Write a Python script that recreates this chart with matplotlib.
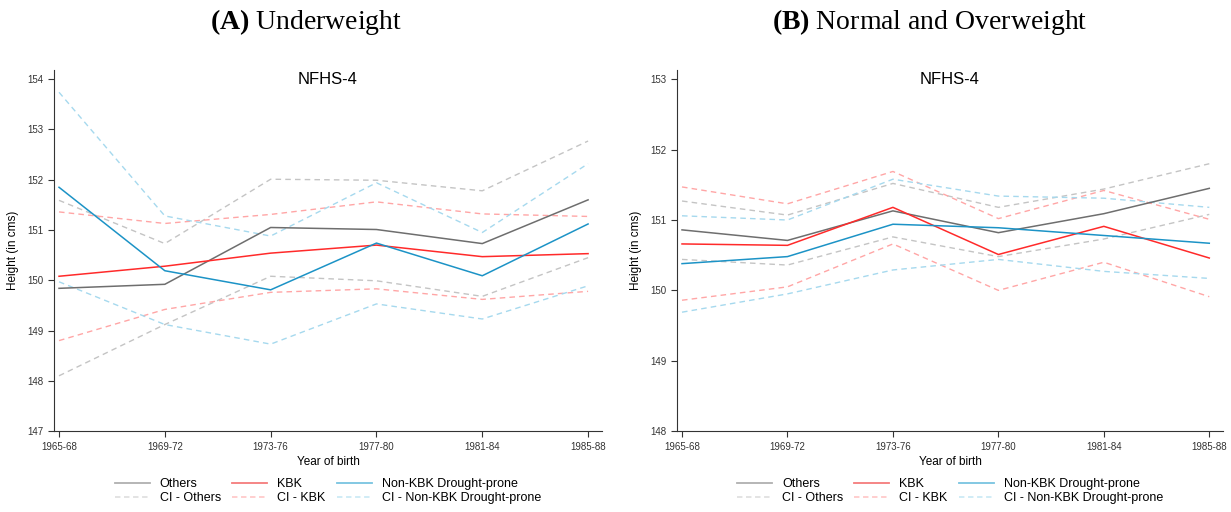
import matplotlib
matplotlib.use("Agg")
import matplotlib.pyplot as plt

plt.rcParams.update({"font.family": "Liberation Sans", "font.size": 8,
                     "mathtext.fontset": "custom",
                     "mathtext.rm": "Liberation Serif",
                     "mathtext.bf": "Liberation Serif:bold"})

cohorts = ["1965-68", "1969-72", "1973-76", "1977-80", "1981-84", "1985-88"]

# (A) Underweight
a_others = [149.84, 149.92, 151.05, 151.01, 150.73, 151.60]
a_kbk = [150.08, 150.28, 150.54, 150.70, 150.47, 150.53]
a_nonkbk = [151.85, 150.19, 149.81, 150.74, 150.09, 151.12]
a_others_hi = [151.59, 150.73, 152.01, 151.99, 151.78, 152.77]
a_others_lo = [148.10, 149.12, 150.08, 149.99, 149.68, 150.45]
a_kbk_hi = [151.36, 151.13, 151.31, 151.56, 151.32, 151.27]
a_kbk_lo = [148.80, 149.42, 149.76, 149.83, 149.62, 149.78]
a_nonkbk_hi = [153.74, 151.28, 150.88, 151.94, 150.95, 152.32]
a_nonkbk_lo = [149.97, 149.12, 148.73, 149.53, 149.23, 149.89]

# (B) Normal and Overweight
b_others = [150.86, 150.71, 151.13, 150.82, 151.09, 151.45]
b_kbk = [150.66, 150.64, 151.18, 150.51, 150.91, 150.46]
b_nonkbk = [150.38, 150.48, 150.94, 150.89, 150.78, 150.67]
b_others_hi = [151.27, 151.07, 151.52, 151.18, 151.44, 151.80]
b_others_lo = [150.44, 150.36, 150.76, 150.48, 150.73, 151.08]
b_kbk_hi = [151.47, 151.23, 151.69, 151.02, 151.42, 151.01]
b_kbk_lo = [149.86, 150.05, 150.66, 150.00, 150.40, 149.91]
b_nonkbk_hi = [151.06, 151.00, 151.58, 151.34, 151.31, 151.18]
b_nonkbk_lo = [149.69, 149.95, 150.29, 150.44, 150.27, 150.17]

GREY, RED, BLUE = "#6e6e6e", "#ff2a2a", "#1c93c6"
GREY_CI, RED_CI, BLUE_CI = "#c4c4c4", "#ffa6a6", "#a6d9ee"


def panel(ax, series, yticks, ylim):
    x = range(len(cohorts))
    others, kbk, nonkbk, o_hi, o_lo, k_hi, k_lo, n_hi, n_lo = series
    dash = dict(ls=(0, (4, 3)), lw=1.0)
    ax.plot(x, o_hi, color=GREY_CI, **dash)
    ax.plot(x, o_lo, color=GREY_CI, **dash)
    ax.plot(x, k_hi, color=RED_CI, **dash)
    ax.plot(x, k_lo, color=RED_CI, **dash)
    ax.plot(x, n_hi, color=BLUE_CI, **dash)
    ax.plot(x, n_lo, color=BLUE_CI, **dash)
    ax.plot(x, others, color=GREY, lw=1.1)
    ax.plot(x, kbk, color=RED, lw=1.1)
    ax.plot(x, nonkbk, color=BLUE, lw=1.1)
    ax.set_xlim(-0.047, 5.13)
    ax.set_ylim(*ylim)
    ax.set_xticks(list(x))
    ax.set_xticklabels(cohorts, fontsize=7)
    ax.set_yticks(yticks)
    ax.tick_params(labelsize=7, length=4, width=0.8, colors="#333333")
    for s in ("top", "right"):
        ax.spines[s].set_visible(False)
    for s in ("left", "bottom"):
        ax.spines[s].set_color("#333333")
    ax.set_xlabel("Year of birth", fontsize=8.5, labelpad=3)
    ax.set_ylabel("Height (in cms)", fontsize=8.5, labelpad=6)
    ax.set_title("NFHS-4", fontsize=12, pad=-2, y=0.97)
    handles = [
        plt.Line2D([], [], color="#b0b0b0", lw=1.3),
        plt.Line2D([], [], color="#e0e0e0", lw=1.3, ls=(0, (3, 2))),
        plt.Line2D([], [], color="#f47c7c", lw=1.3),
        plt.Line2D([], [], color="#ffcaca", lw=1.3, ls=(0, (3, 2))),
        plt.Line2D([], [], color="#78c4e0", lw=1.3),
        plt.Line2D([], [], color="#cdebf6", lw=1.3, ls=(0, (3, 2))),
    ]
    labels = ["Others", "CI - Others", "KBK", "CI - KBK",
              "Non-KBK Drought-prone", "CI - Non-KBK Drought-prone"]
    ax.legend(handles, labels, ncol=3, loc="upper center",
              bbox_to_anchor=(0.5, -0.1), frameon=False, fontsize=9,
              handlelength=2.8, columnspacing=0.9, labelspacing=0.15,
              handletextpad=0.8)


fig = plt.figure(figsize=(12.31, 5.12), dpi=100)
ax_a = fig.add_axes([0.0439, 0.158, 0.445, 0.705])
ax_b = fig.add_axes([0.550, 0.158, 0.4435, 0.705])

panel(ax_a, [a_others, a_kbk, a_nonkbk, a_others_hi, a_others_lo,
             a_kbk_hi, a_kbk_lo, a_nonkbk_hi, a_nonkbk_lo],
      range(147, 155), (147, 154.18))
panel(ax_b, [b_others, b_kbk, b_nonkbk, b_others_hi, b_others_lo,
             b_kbk_hi, b_kbk_lo, b_nonkbk_hi, b_nonkbk_lo],
      range(148, 154), (148, 153.13))

fig.text(0.249, 0.957, r"$\mathbf{(A)}$ Underweight", ha="center", va="center",
         fontsize=20, family="Liberation Serif")
fig.text(0.755, 0.957, r"$\mathbf{(B)}$ Normal and Overweight", ha="center",
         va="center", fontsize=20, family="Liberation Serif")

fig.savefig("out.png", dpi=100)
